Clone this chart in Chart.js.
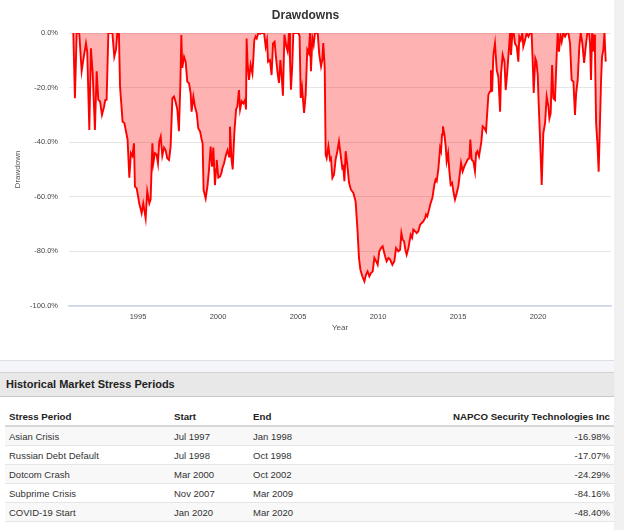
<!DOCTYPE html>
<html>
<head>
<meta charset="utf-8">
<title>Drawdowns</title>
<script src="https://cdn.jsdelivr.net/npm/chart.js@4.4.0/dist/chart.umd.min.js"></script>
<style>
    body { margin: 0; background: #fff; font-family: "Liberation Sans", Arial, sans-serif; width: 624px; height: 530px; overflow: hidden; position: relative; }
    #chartBox { position: absolute; left: 0; top: 0; width: 612px; height: 345px; }
    #sep { position: absolute; left: 0; top: 360px; width: 614px; height: 11px; border-top: 1px solid #dcdfe4; background: #f4f6f9; }
    #secHead { position: absolute; left: 0; top: 372px; width: 614px; height: 25px; box-sizing: border-box; padding-left: 6px;
        background: #e8e8e8; border-top: 1px solid #d2d2d2; border-bottom: 1px solid #c8c8c8;
        font-weight: bold; font-size: 11px; line-height: 23px; color: #222; }
    #stressTable { position: absolute; left: 5px; top: 407px; width: 609px; }
    .stats-table { border-collapse: collapse; width: 100%; table-layout: fixed; font-size: 9.5px; color: #333; }
    .stats-table th { font-weight: bold; font-size: 9.7px; color: #222; text-align: left; height: 18px; padding: 0 4px; border-bottom: 2px solid #d8d8d8; }
    .stats-table td { height: 18px; padding: 0 4px; border-bottom: 1px solid #e6e6e6; }
    .stats-table tbody tr:nth-child(odd) td { background: #f8f8f8; }
    .stats-table .num { text-align: right; }
    #scroll { position: absolute; left: 614px; top: 0; width: 10px; height: 530px; background: #f0f0f0; }
</style>
</head>
<body>
<div id="chartBox"><canvas id="drawdownChart"></canvas></div>
<div id="sep"></div>
<div id="secHead">Historical Market Stress Periods</div>
<div id="stressTable"></div>
<div id="scroll"></div>
<script>
// Drawdown series (decimal year, % from peak)
const years = [
    1990.96, 1991.06, 1991.17, 1991.33, 1991.48, 1991.58, 1991.75, 1991.83, 1991.96, 1992.06,
    1992.17, 1992.31, 1992.42, 1992.52, 1992.63, 1992.75, 1992.88, 1992.96, 1993.04, 1993.15,
    1993.40, 1993.52, 1993.63, 1993.71, 1993.81, 1993.88, 1994.04, 1994.15, 1994.25, 1994.35,
    1994.46, 1994.56, 1994.65, 1994.75, 1994.81, 1994.92, 1995.08, 1995.23, 1995.33, 1995.48,
    1995.58, 1995.71, 1995.79, 1995.90, 1995.96, 1996.06, 1996.17, 1996.25, 1996.33, 1996.42,
    1996.52, 1996.63, 1996.73, 1996.83, 1996.94, 1997.04, 1997.15, 1997.25, 1997.35, 1997.46,
    1997.56, 1997.65, 1997.71, 1997.77, 1997.88, 1997.98, 1998.08, 1998.19, 1998.29, 1998.35,
    1998.46, 1998.56, 1998.67, 1998.77, 1998.88, 1998.98, 1999.04, 1999.10, 1999.23, 1999.35,
    1999.44, 1999.54, 1999.63, 1999.71, 1999.81, 1999.88, 1999.92, 2000.02, 2000.13, 2000.23,
    2000.27, 2000.38, 2000.50, 2000.60, 2000.69, 2000.75, 2000.85, 2000.92, 2001.02, 2001.13,
    2001.21, 2001.31, 2001.38, 2001.48, 2001.58, 2001.69, 2001.75, 2001.79, 2001.85, 2001.94,
    2002.04, 2002.15, 2002.21, 2002.27, 2002.35, 2002.42, 2002.52, 2002.63, 2002.73, 2002.88,
    2002.98, 2003.06, 2003.13, 2003.25, 2003.35, 2003.44, 2003.54, 2003.63, 2003.73, 2003.81,
    2003.90, 2003.98, 2004.06, 2004.15, 2004.27, 2004.35, 2004.44, 2004.50, 2004.56, 2004.64,
    2004.71, 2004.85, 2005.02, 2005.10, 2005.17, 2005.25, 2005.38, 2005.48, 2005.58, 2005.67,
    2005.75, 2005.81, 2005.90, 2005.98, 2006.06, 2006.23, 2006.33, 2006.44, 2006.52, 2006.58,
    2006.67, 2006.73, 2006.79, 2006.90, 2007.00, 2007.06, 2007.15, 2007.25, 2007.35, 2007.46,
    2007.56, 2007.69, 2007.77, 2007.83, 2007.90, 2007.98, 2008.08, 2008.19, 2008.31, 2008.46,
    2008.60, 2008.71, 2008.81, 2008.90, 2009.02, 2009.15, 2009.25, 2009.35, 2009.46, 2009.56,
    2009.67, 2009.77, 2009.88, 2009.98, 2010.08, 2010.19, 2010.29, 2010.44, 2010.54, 2010.65,
    2010.75, 2010.90, 2011.02, 2011.13, 2011.27, 2011.38, 2011.46, 2011.54, 2011.63, 2011.71,
    2011.79, 2011.90, 2012.04, 2012.13, 2012.21, 2012.31, 2012.42, 2012.52, 2012.63, 2012.73,
    2012.83, 2012.94, 2013.00, 2013.08, 2013.19, 2013.29, 2013.40, 2013.52, 2013.60, 2013.67,
    2013.77, 2013.88, 2013.94, 2014.00, 2014.06, 2014.15, 2014.23, 2014.29, 2014.38, 2014.46,
    2014.54, 2014.63, 2014.71, 2014.81, 2014.92, 2015.02, 2015.13, 2015.19, 2015.29, 2015.40,
    2015.50, 2015.60, 2015.71, 2015.77, 2015.85, 2015.96, 2016.06, 2016.13, 2016.21, 2016.31,
    2016.38, 2016.46, 2016.54, 2016.65, 2016.75, 2016.83, 2016.90, 2017.00, 2017.06, 2017.13,
    2017.21, 2017.31, 2017.42, 2017.52, 2017.63, 2017.69, 2017.79, 2017.90, 2017.98, 2018.08,
    2018.19, 2018.25, 2018.31, 2018.40, 2018.48, 2018.56, 2018.67, 2018.77, 2018.83, 2018.92,
    2019.02, 2019.08, 2019.19, 2019.29, 2019.40, 2019.50, 2019.60, 2019.67, 2019.73, 2019.83,
    2019.90, 2019.98, 2020.04, 2020.13, 2020.23, 2020.33, 2020.44, 2020.54, 2020.65, 2020.71,
    2020.79, 2020.88, 2020.96, 2021.06, 2021.17, 2021.23, 2021.31, 2021.40, 2021.48, 2021.58,
    2021.69, 2021.79, 2021.90, 2022.00, 2022.10, 2022.21, 2022.31, 2022.38, 2022.48, 2022.58,
    2022.67, 2022.77, 2022.88, 2022.98, 2023.08, 2023.19, 2023.25, 2023.31, 2023.38, 2023.44,
    2023.50, 2023.56, 2023.63, 2023.71, 2023.79, 2023.88, 2023.94, 2024.00, 2024.08, 2024.15,
    2024.23
];
const drawdowns = [
    0, -23.9, 0, 0, -14, -10, -3.8, -7, -35.5, -5.6,
    -14.8, -35.5, -14, -24.5, -25, -30, -27, -24.5, -24.5, 0,
    0, -8.7, -6, 0, 0, -19.7, -32.5, -33, -36, -39,
    -53, -44, -45, -40.4, -56.3, -56.9, -62.4, -66, -62.4, -67.9,
    -58, -62.4, -61, -40.4, -47.7, -44, -44.6, -47.7, -39.8, -38,
    -45, -42, -43, -45.9, -46.5, -41.6, -23.9, -23.3, -25.2, -28,
    -36, -18.4, -0.7, -12.8, -8.7, -10.5, -17.8, -18.4, -22, -28.8,
    -23.3, -27, -29.4, -35, -36, -39, -40.4, -57.5, -60.6, -55.7,
    -50, -41.6, -49, -42, -55.7, -50, -46.5, -53, -52.6, -51,
    -49.6, -47.7, -44.6, -42.9, -45.3, -34.3, -46.5, -50, -36.8, -28,
    -27, -20.9, -28, -25, -25.8, -24.5, -28, -2, -11, -17.2,
    -11.7, -14.8, -9.3, -2.6, -1.3, -2, 0, -0.3, 0, 0,
    -5, -2.6, -10.5, -9.9, -15.4, -3.8, -3.2, -9.3, -14.8, -18.3,
    -9.9, -16, -23, -0.6, -5, -6.7, 0, -10, -20.8, -12,
    0, 0, 0, -1, -23.8, -20, -29.3, -22.6, -6.1, -7.3,
    0, -14, -1.8, -4.3, 0, 0, -7.9, -12.2, -9.8, -3.7,
    -12.8, -44.6, -45.8, -41.5, -46.4, -45.8, -53.1, -51.9, -46.4, -43.3,
    -39.7, -45.8, -49.5, -49, -54.3, -43.3, -48.2, -54.9, -57.4, -58.6,
    -61.7, -71.4, -82.4, -86.7, -89.1, -91, -88.5, -87.3, -89.1, -87.9,
    -87.3, -82.4, -83.6, -84.9, -80, -78.8, -78.1, -81.8, -83.6, -82.4,
    -82.9, -84.9, -83.6, -78.8, -80, -79.4, -73.3, -75.7, -76.3, -79.4,
    -81.2, -78.8, -73.9, -75, -72, -72.6, -73.3, -72.6, -70.2, -69.6,
    -69, -67.8, -66.5, -67.2, -64.7, -62.3, -60.4, -55.6, -53.7, -54.3,
    -50, -42.1, -43.3, -37.2, -34.2, -37.2, -41.5, -47, -44, -50.7,
    -55.6, -54.9, -58, -61, -58.6, -56.2, -50.7, -47.6, -50.7, -48.8,
    -47.6, -46.4, -45.8, -39, -46.4, -47, -50.7, -44, -43.3, -45.2,
    -42.7, -39.7, -34.2, -34.8, -36, -28.7, -22.6, -21.4, -13.6, -21.5,
    -8, -3.8, -13.6, -16, -28.8, -14.8, -8, -10.5, -20.9, -14.2,
    -5, 0, -8, 0, 0, -3.8, -5, -10.5, -1.3, -2.6,
    0, -5, -2.6, 0, -1.3, 0, 0, -11, -22, -9.3,
    -10.5, -15.4, -25.8, -39.2, -55.7, -36.8, -33, -23.3, -27, -31.3,
    -29.4, -11.7, -23.9, -24.5, -7.4, 0, -6.8, -0.7, -3.2, 0,
    -1.3, 0, 0, -3.8, -17.2, -17.8, -30, -22.1, -17.2, -5,
    0, -3.8, -11, -5, 0, 0, -3.8, -17.2, 0, -6.8,
    -0.6, -7.4, -33, -40.4, -50.8, -30.6, -17.2, -8.7, -6.2, 0,
    -10.5
];
const yearTicks = [1995, 2000, 2005, 2010, 2015, 2020];
const drawdownTicks = [0, -20, -40, -60, -80, -100];

// Stress periods table
const stressPeriods = ['Asian Crisis', 'Russian Debt Default', 'Dotcom Crash', 'Subprime Crisis', 'COVID-19 Start'];
const stressStart = ['Jul 1997', 'Jul 1998', 'Mar 2000', 'Nov 2007', 'Jan 2020'];
const stressEnd = ['Jan 1998', 'Oct 1998', 'Oct 2002', 'Mar 2009', 'Mar 2020'];
const stressValues = ['-16.98%', '-17.07%', '-24.29%', '-84.16%', '-48.40%'];

const fontFamily = '"Liberation Sans", Arial, sans-serif';

const ctx = document.getElementById('drawdownChart').getContext('2d');
new Chart(ctx, {
    type: 'line',
    data: {
        datasets: [{
            label: 'Drawdown',
            data: years.map((y, i) => ({ x: y, y: drawdowns[i] })),
            borderColor: '#ff0000',
            backgroundColor: 'rgba(255, 0, 0, 0.3)',
            borderWidth: 1.9,
            pointRadius: 0,
            tension: 0,
            fill: 'origin'
        }]
    },
    options: {
        responsive: true,
        maintainAspectRatio: false,
        animation: false,
        layout: { padding: { left: 0, right: 1, top: 0, bottom: 0 } },
        plugins: {
            legend: { display: false },
            tooltip: { enabled: false },
            title: {
                display: true,
                text: 'Drawdowns',
                color: '#333',
                font: { family: fontFamily, size: 12, weight: 'bold' },
                padding: { top: 8, bottom: 10.6 }
            }
        },
        scales: {
            x: {
                type: 'linear',
                min: 1990.69,
                max: 2024.56,
                afterBuildTicks: scale => { scale.ticks = yearTicks.map(v => ({ value: v })); },
                afterFit: scale => { scale.height = 39; },
                grid: { display: false, drawTicks: false },
                border: { display: true, color: '#ccd6eb', width: 1.5 },
                ticks: {
                    color: '#444',
                    padding: 6,
                    maxRotation: 0,
                    font: { family: fontFamily, size: 7.5 },
                    callback: v => String(v)
                },
                title: {
                    display: true,
                    text: 'Year',
                    color: '#555',
                    font: { family: fontFamily, size: 8 },
                    padding: { top: 0, bottom: 12 }
                }
            },
            y: {
                min: -100,
                max: 0,
                afterBuildTicks: scale => { scale.ticks = drawdownTicks.map(v => ({ value: v })); },
                afterFit: scale => { scale.width = 69; },
                grid: { color: '#e6e6e6', drawTicks: false },
                border: { display: false },
                ticks: {
                    color: '#444',
                    padding: 11,
                    font: { family: fontFamily, size: 7.5 },
                    callback: v => v.toFixed(1) + '%'
                },
                title: {
                    display: true,
                    text: 'Drawdown',
                    color: '#555',
                    font: { family: fontFamily, size: 8 },
                    padding: { top: 13, bottom: 0 }
                }
            }
        }
    }
});

// Build the stress periods table
let tableHTML = `
    <table class="stats-table">
        <colgroup><col style="width:165px"><col style="width:79px"><col style="width:90px"><col></colgroup>
        <thead>
            <tr>
                <th>Stress Period</th>
                <th>Start</th>
                <th>End</th>
                <th class="num">NAPCO Security Technologies Inc</th>
            </tr>
        </thead>
        <tbody>
`;
stressPeriods.forEach((name, i) => {
    tableHTML += `
            <tr>
                <td>${name}</td>
                <td>${stressStart[i]}</td>
                <td>${stressEnd[i]}</td>
                <td class="num">${stressValues[i]}</td>
            </tr>
    `;
});
tableHTML += `
        </tbody>
    </table>
`;
document.getElementById('stressTable').innerHTML = tableHTML;
</script>
</body>
</html>
